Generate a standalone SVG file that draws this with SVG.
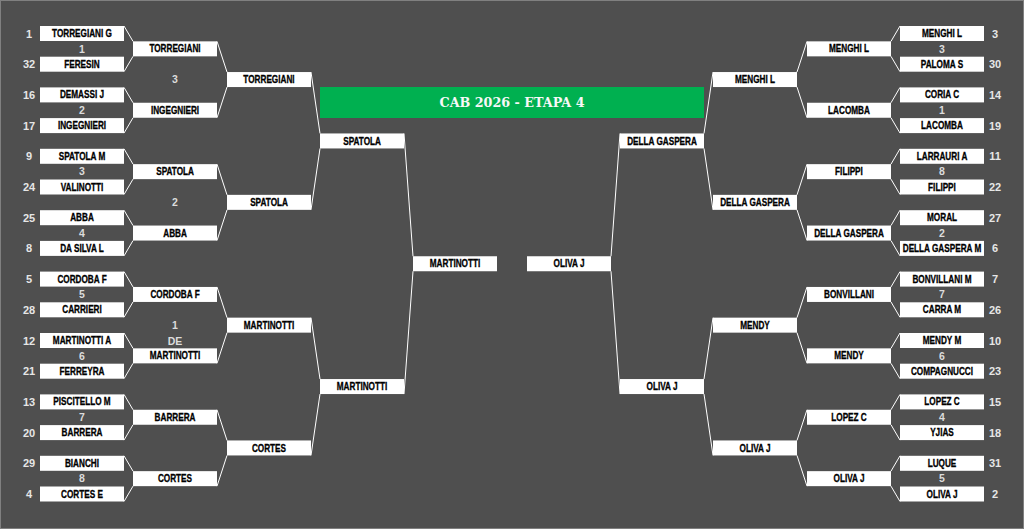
<svg xmlns="http://www.w3.org/2000/svg" width="1024" height="529" viewBox="0 0 1024 529">
<style>
.bg{fill:#4f4f4f;stroke:#808080;stroke-width:2}
.b{fill:#ffffff}
.n{font-family:"Liberation Sans",Arial,sans-serif;font-weight:bold;font-size:10px;text-anchor:middle;fill:#000;stroke:#000;stroke-width:0.3;transform-box:fill-box;transform-origin:center;transform:scaleX(0.82)}
.s{font-family:"Liberation Sans",Arial,sans-serif;font-weight:bold;font-size:11px;text-anchor:middle;fill:#e6e6e6}
.m{font-family:"Liberation Sans",Arial,sans-serif;font-weight:bold;font-size:10.5px;text-anchor:middle;fill:#dcdcdc}
.c{fill:none;stroke:#ffffff;stroke-width:1}
.ti{font-family:"DejaVu Serif","Liberation Serif",serif;font-weight:bold;font-size:12px;text-anchor:middle;fill:#f8f8f8}
</style>
<rect class="bg" x="0" y="0" width="1024" height="529"/>
<g id="title">
<rect x="320" y="87" width="384" height="31" fill="#00b050"/>
<text class="ti" x="512" y="106.5" textLength="145" lengthAdjust="spacingAndGlyphs">CAB 2026 - ETAPA 4</text>
</g>
<g id="connectors" class="c">
<path d="M124 26L133 41.35M124 71.7L133 56.35M124 87.4L133 102.75M124 133.1L133 117.75M124 148.8L133 164.15M124 194.5L133 179.15M124 210.2L133 225.55M124 255.9L133 240.55M124 271.6L133 286.95M124 317.3L133 301.95M124 333L133 348.35M124 378.7L133 363.35M124 394.4L133 409.75M124 440.1L133 424.75M124 455.8L133 471.15M124 501.5L133 486.15"/>
<path d="M217 41.35L227 72.05M217 117.75L227 87.05M217 164.15L227 194.85M217 240.55L227 209.85M217 286.95L227 317.65M217 363.35L227 332.65M217 409.75L227 440.45M217 486.15L227 455.45"/>
<path d="M311 72.05L320 133.45M311 209.85L320 148.45M311 317.65L320 379.05M311 455.45L320 394.05"/>
<path d="M404 133.45L413 256.25M404 394.05L413 271.25"/>
<path d="M900 26L891 41.35M900 71.7L891 56.35M900 87.4L891 102.75M900 133.1L891 117.75M900 148.8L891 164.15M900 194.5L891 179.15M900 210.2L891 225.55M900 255.9L891 240.55M900 271.6L891 286.95M900 317.3L891 301.95M900 333L891 348.35M900 378.7L891 363.35M900 394.4L891 409.75M900 440.1L891 424.75M900 455.8L891 471.15M900 501.5L891 486.15"/>
<path d="M807 41.35L797 72.05M807 117.75L797 87.05M807 164.15L797 194.85M807 240.55L797 209.85M807 286.95L797 317.65M807 363.35L797 332.65M807 409.75L797 440.45M807 486.15L797 455.45"/>
<path d="M713 72.05L704 133.45M713 209.85L704 148.45M713 317.65L704 379.05M713 455.45L704 394.05"/>
<path d="M620 133.45L611 256.25M620 394.05L611 271.25"/>
</g>
<g id="left-r1">
<g id="L1-0"><text class="s" x="29" y="37.5">1</text><rect class="b" x="40" y="26" width="84" height="15"/><text class="n" x="82" y="37.1">TORREGIANI G</text></g>
<g id="L1-1"><text class="s" x="29" y="68.2">32</text><rect class="b" x="40" y="56.7" width="84" height="15"/><text class="n" x="82" y="67.8">FERESIN</text></g>
<g id="L1-2"><text class="s" x="29" y="98.9">16</text><rect class="b" x="40" y="87.4" width="84" height="15"/><text class="n" x="82" y="98.5">DEMASSI J</text></g>
<g id="L1-3"><text class="s" x="29" y="129.6">17</text><rect class="b" x="40" y="118.1" width="84" height="15"/><text class="n" x="82" y="129.2">INGEGNIERI</text></g>
<g id="L1-4"><text class="s" x="29" y="160.3">9</text><rect class="b" x="40" y="148.8" width="84" height="15"/><text class="n" x="82" y="159.9">SPATOLA M</text></g>
<g id="L1-5"><text class="s" x="29" y="191">24</text><rect class="b" x="40" y="179.5" width="84" height="15"/><text class="n" x="82" y="190.6">VALINOTTI</text></g>
<g id="L1-6"><text class="s" x="29" y="221.7">25</text><rect class="b" x="40" y="210.2" width="84" height="15"/><text class="n" x="82" y="221.3">ABBA</text></g>
<g id="L1-7"><text class="s" x="29" y="252.4">8</text><rect class="b" x="40" y="240.9" width="84" height="15"/><text class="n" x="82" y="252">DA SILVA L</text></g>
<g id="L1-8"><text class="s" x="29" y="283.1">5</text><rect class="b" x="40" y="271.6" width="84" height="15"/><text class="n" x="82" y="282.7">CORDOBA F</text></g>
<g id="L1-9"><text class="s" x="29" y="313.8">28</text><rect class="b" x="40" y="302.3" width="84" height="15"/><text class="n" x="82" y="313.4">CARRIERI</text></g>
<g id="L1-10"><text class="s" x="29" y="344.5">12</text><rect class="b" x="40" y="333" width="84" height="15"/><text class="n" x="82" y="344.1">MARTINOTTI A</text></g>
<g id="L1-11"><text class="s" x="29" y="375.2">21</text><rect class="b" x="40" y="363.7" width="84" height="15"/><text class="n" x="82" y="374.8">FERREYRA</text></g>
<g id="L1-12"><text class="s" x="29" y="405.9">13</text><rect class="b" x="40" y="394.4" width="84" height="15"/><text class="n" x="82" y="405.5">PISCITELLO M</text></g>
<g id="L1-13"><text class="s" x="29" y="436.6">20</text><rect class="b" x="40" y="425.1" width="84" height="15"/><text class="n" x="82" y="436.2">BARRERA</text></g>
<g id="L1-14"><text class="s" x="29" y="467.3">29</text><rect class="b" x="40" y="455.8" width="84" height="15"/><text class="n" x="82" y="466.9">BIANCHI</text></g>
<g id="L1-15"><text class="s" x="29" y="498">4</text><rect class="b" x="40" y="486.5" width="84" height="15"/><text class="n" x="82" y="497.6">CORTES E</text></g>
</g>
<g id="left-match-numbers">
<text class="m" x="82" y="52.6">1</text><text class="m" x="82" y="114">2</text><text class="m" x="82" y="175.4">3</text><text class="m" x="82" y="236.8">4</text>
<text class="m" x="82" y="298.2">5</text><text class="m" x="82" y="359.6">6</text><text class="m" x="82" y="421">7</text><text class="m" x="82" y="482.4">8</text>
<text class="m" x="175" y="83.3">3</text><text class="m" x="175" y="206.1">2</text><text class="m" x="175" y="329.3">1</text><text class="m" x="175" y="344.5">DE</text>
</g>
<g id="left-r2">
<g id="L2-0"><rect class="b" x="133" y="41.35" width="84" height="15"/><text class="n" x="175" y="52.45">TORREGIANI</text></g>
<g id="L2-1"><rect class="b" x="133" y="102.75" width="84" height="15"/><text class="n" x="175" y="113.85">INGEGNIERI</text></g>
<g id="L2-2"><rect class="b" x="133" y="164.15" width="84" height="15"/><text class="n" x="175" y="175.25">SPATOLA</text></g>
<g id="L2-3"><rect class="b" x="133" y="225.55" width="84" height="15"/><text class="n" x="175" y="236.65">ABBA</text></g>
<g id="L2-4"><rect class="b" x="133" y="286.95" width="84" height="15"/><text class="n" x="175" y="298.05">CORDOBA F</text></g>
<g id="L2-5"><rect class="b" x="133" y="348.35" width="84" height="15"/><text class="n" x="175" y="359.45">MARTINOTTI</text></g>
<g id="L2-6"><rect class="b" x="133" y="409.75" width="84" height="15"/><text class="n" x="175" y="420.85">BARRERA</text></g>
<g id="L2-7"><rect class="b" x="133" y="471.15" width="84" height="15"/><text class="n" x="175" y="482.25">CORTES</text></g>
</g>
<g id="left-r3">
<g id="L3-0"><rect class="b" x="227" y="72.05" width="84" height="15"/><text class="n" x="269" y="83.15">TORREGIANI</text></g>
<g id="L3-1"><rect class="b" x="227" y="194.85" width="84" height="15"/><text class="n" x="269" y="205.95">SPATOLA</text></g>
<g id="L3-2"><rect class="b" x="227" y="317.65" width="84" height="15"/><text class="n" x="269" y="328.75">MARTINOTTI</text></g>
<g id="L3-3"><rect class="b" x="227" y="440.45" width="84" height="15"/><text class="n" x="269" y="451.55">CORTES</text></g>
</g>
<g id="left-r4">
<g id="L4-0"><rect class="b" x="320" y="133.45" width="84" height="15"/><text class="n" x="362" y="144.55">SPATOLA</text></g>
<g id="L4-1"><rect class="b" x="320" y="379.05" width="84" height="15"/><text class="n" x="362" y="390.15">MARTINOTTI</text></g>
</g>
<g id="L5-0"><rect class="b" x="413" y="256.25" width="84" height="15"/><text class="n" x="455" y="267.35">MARTINOTTI</text></g>
<g id="R5-0"><rect class="b" x="527" y="256.25" width="84" height="15"/><text class="n" x="569" y="267.35">OLIVA J</text></g>
<g id="right-r4">
<g id="R4-0"><rect class="b" x="620" y="133.45" width="84" height="15"/><text class="n" x="662" y="144.55">DELLA GASPERA</text></g>
<g id="R4-1"><rect class="b" x="620" y="379.05" width="84" height="15"/><text class="n" x="662" y="390.15">OLIVA J</text></g>
</g>
<g id="right-r3">
<g id="R3-0"><rect class="b" x="713" y="72.05" width="84" height="15"/><text class="n" x="755" y="83.15">MENGHI L</text></g>
<g id="R3-1"><rect class="b" x="713" y="194.85" width="84" height="15"/><text class="n" x="755" y="205.95">DELLA GASPERA</text></g>
<g id="R3-2"><rect class="b" x="713" y="317.65" width="84" height="15"/><text class="n" x="755" y="328.75">MENDY</text></g>
<g id="R3-3"><rect class="b" x="713" y="440.45" width="84" height="15"/><text class="n" x="755" y="451.55">OLIVA J</text></g>
</g>
<g id="right-r2">
<g id="R2-0"><rect class="b" x="807" y="41.35" width="84" height="15"/><text class="n" x="849" y="52.45">MENGHI L</text></g>
<g id="R2-1"><rect class="b" x="807" y="102.75" width="84" height="15"/><text class="n" x="849" y="113.85">LACOMBA</text></g>
<g id="R2-2"><rect class="b" x="807" y="164.15" width="84" height="15"/><text class="n" x="849" y="175.25">FILIPPI</text></g>
<g id="R2-3"><rect class="b" x="807" y="225.55" width="84" height="15"/><text class="n" x="849" y="236.65">DELLA GASPERA</text></g>
<g id="R2-4"><rect class="b" x="807" y="286.95" width="84" height="15"/><text class="n" x="849" y="298.05">BONVILLANI</text></g>
<g id="R2-5"><rect class="b" x="807" y="348.35" width="84" height="15"/><text class="n" x="849" y="359.45">MENDY</text></g>
<g id="R2-6"><rect class="b" x="807" y="409.75" width="84" height="15"/><text class="n" x="849" y="420.85">LOPEZ C</text></g>
<g id="R2-7"><rect class="b" x="807" y="471.15" width="84" height="15"/><text class="n" x="849" y="482.25">OLIVA J</text></g>
</g>
<g id="right-match-numbers">
<text class="m" x="942" y="52.6">3</text><text class="m" x="942" y="114">1</text><text class="m" x="942" y="175.4">8</text><text class="m" x="942" y="236.8">2</text>
<text class="m" x="942" y="298.2">7</text><text class="m" x="942" y="359.6">6</text><text class="m" x="942" y="421">4</text><text class="m" x="942" y="482.4">5</text>
</g>
<g id="right-r1">
<g id="R1-0"><rect class="b" x="900" y="26" width="84" height="15"/><text class="n" x="942" y="37.1">MENGHI L</text><text class="s" x="995" y="37.5">3</text></g>
<g id="R1-1"><rect class="b" x="900" y="56.7" width="84" height="15"/><text class="n" x="942" y="67.8">PALOMA S</text><text class="s" x="995" y="68.2">30</text></g>
<g id="R1-2"><rect class="b" x="900" y="87.4" width="84" height="15"/><text class="n" x="942" y="98.5">CORIA C</text><text class="s" x="995" y="98.9">14</text></g>
<g id="R1-3"><rect class="b" x="900" y="118.1" width="84" height="15"/><text class="n" x="942" y="129.2">LACOMBA</text><text class="s" x="995" y="129.6">19</text></g>
<g id="R1-4"><rect class="b" x="900" y="148.8" width="84" height="15"/><text class="n" x="942" y="159.9">LARRAURI A</text><text class="s" x="995" y="160.3">11</text></g>
<g id="R1-5"><rect class="b" x="900" y="179.5" width="84" height="15"/><text class="n" x="942" y="190.6">FILIPPI</text><text class="s" x="995" y="191">22</text></g>
<g id="R1-6"><rect class="b" x="900" y="210.2" width="84" height="15"/><text class="n" x="942" y="221.3">MORAL</text><text class="s" x="995" y="221.7">27</text></g>
<g id="R1-7"><rect class="b" x="900" y="240.9" width="84" height="15"/><text class="n" x="942" y="252">DELLA GASPERA M</text><text class="s" x="995" y="252.4">6</text></g>
<g id="R1-8"><rect class="b" x="900" y="271.6" width="84" height="15"/><text class="n" x="942" y="282.7">BONVILLANI M</text><text class="s" x="995" y="283.1">7</text></g>
<g id="R1-9"><rect class="b" x="900" y="302.3" width="84" height="15"/><text class="n" x="942" y="313.4">CARRA M</text><text class="s" x="995" y="313.8">26</text></g>
<g id="R1-10"><rect class="b" x="900" y="333" width="84" height="15"/><text class="n" x="942" y="344.1">MENDY M</text><text class="s" x="995" y="344.5">10</text></g>
<g id="R1-11"><rect class="b" x="900" y="363.7" width="84" height="15"/><text class="n" x="942" y="374.8">COMPAGNUCCI</text><text class="s" x="995" y="375.2">23</text></g>
<g id="R1-12"><rect class="b" x="900" y="394.4" width="84" height="15"/><text class="n" x="942" y="405.5">LOPEZ C</text><text class="s" x="995" y="405.9">15</text></g>
<g id="R1-13"><rect class="b" x="900" y="425.1" width="84" height="15"/><text class="n" x="942" y="436.2">YJIAS</text><text class="s" x="995" y="436.6">18</text></g>
<g id="R1-14"><rect class="b" x="900" y="455.8" width="84" height="15"/><text class="n" x="942" y="466.9">LUQUE</text><text class="s" x="995" y="467.3">31</text></g>
<g id="R1-15"><rect class="b" x="900" y="486.5" width="84" height="15"/><text class="n" x="942" y="497.6">OLIVA J</text><text class="s" x="995" y="498">2</text></g>
</g>
</svg>
